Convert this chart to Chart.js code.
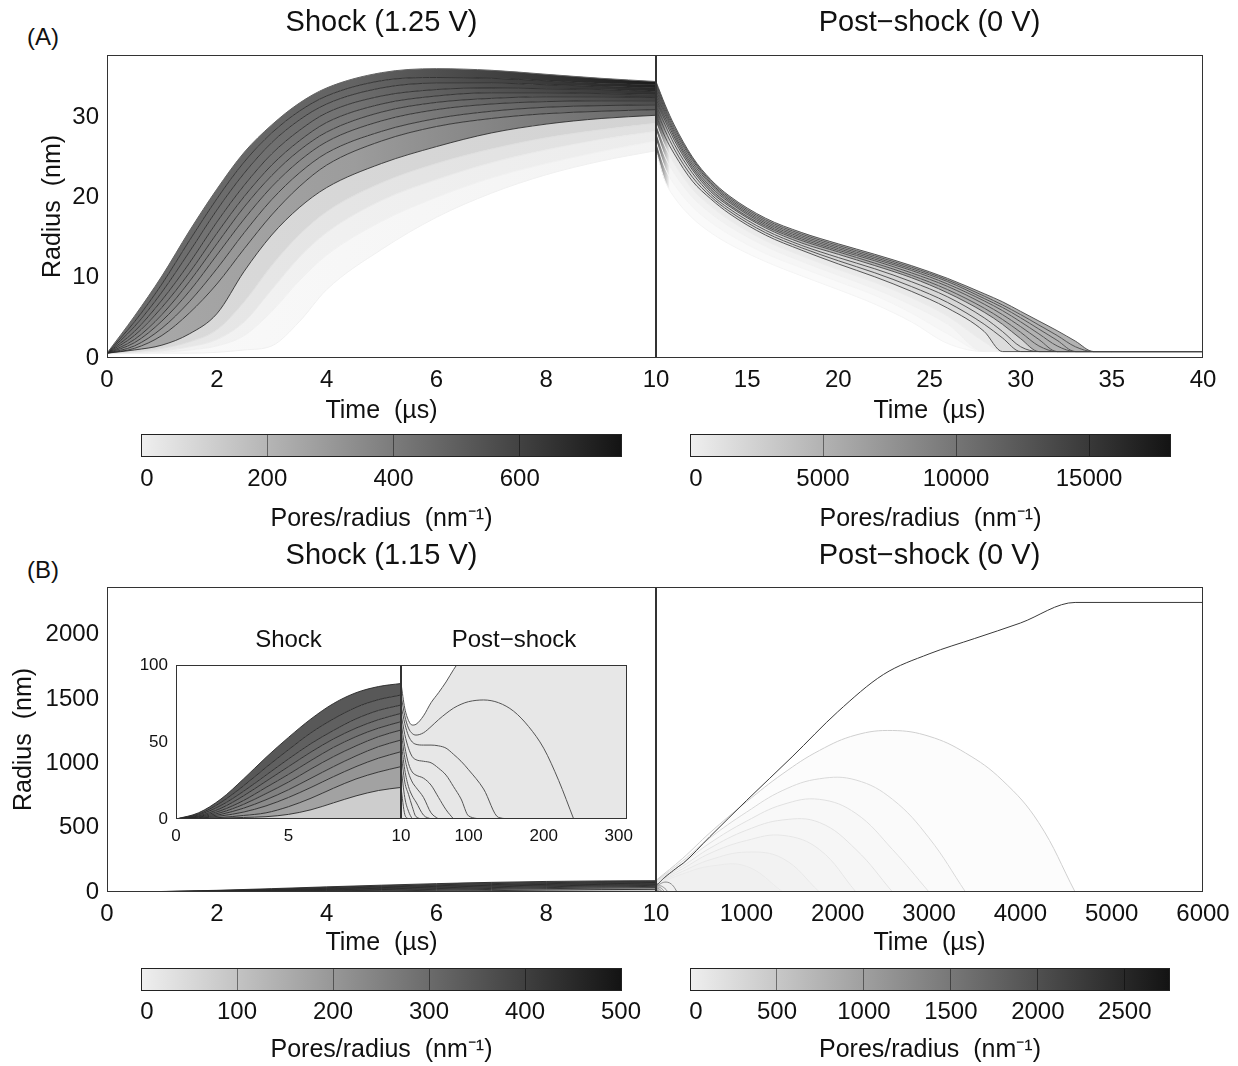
<!DOCTYPE html>
<html>
<head>
<meta charset="utf-8">
<script src="https://cdn.jsdelivr.net/npm/chart.js@4.4.0/dist/chart.umd.min.js"></script>
<style>
  body { margin: 0; background: #fff; width: 1238px; height: 1066px; position: relative; overflow: hidden;
         font-family: 'Liberation Sans', Arial, sans-serif; }
  .tag { position: absolute; font-size: 24px; line-height: 24px; color: #111; }
</style>
</head>
<body>
<div class="tag" style="left:27px;top:25px">(A)</div>
<div class="tag" style="left:27px;top:558px">(B)</div>
<script>
// ---------- panel A, shock at 1.25 V (time in us, radius in nm) ----------
const aShockTime = [0, 0.5, 1, 1.5, 2, 2.5, 3, 3.5, 4, 5, 6, 7, 8, 9, 10];
const aShockRadius = [
  [0.6, 5.2, 10.2, 15.8, 21.0, 25.6, 29.0, 31.7, 33.6, 35.5, 36.0, 35.8, 35.3, 34.8, 34.4],
  [0.6, 4.5, 9.2, 14.6, 19.8, 24.4, 28.0, 30.7, 32.6, 34.5, 34.9, 34.8, 34.5, 34.2, 34.0],
  [0.6, 3.9, 8.2, 13.2, 18.4, 23.0, 26.8, 29.6, 31.6, 33.6, 34.2, 34.2, 34.0, 33.8, 33.6],
  [0.6, 3.3, 7.2, 11.8, 16.9, 21.5, 25.4, 28.3, 30.5, 32.6, 33.4, 33.6, 33.5, 33.4, 33.2],
  [0.6, 2.8, 6.3, 10.6, 15.5, 20.1, 24.0, 27.0, 29.3, 31.6, 32.6, 33.0, 33.0, 32.9, 32.8],
  [0.6, 2.3, 5.4, 9.5, 14.2, 18.8, 22.7, 25.8, 28.1, 30.6, 31.8, 32.3, 32.5, 32.5, 32.4],
  [0.6, 1.9, 4.6, 8.3, 12.8, 17.3, 21.3, 24.5, 26.9, 29.5, 30.9, 31.6, 31.9, 32.0, 32.0],
  [0.6, 1.5, 3.7, 7.0, 11.1, 15.6, 19.7, 23.0, 25.5, 28.2, 29.8, 30.7, 31.2, 31.4, 31.5],
  [0.6, 1.2, 2.8, 5.6, 9.2, 13.6, 17.8, 21.3, 24.0, 27.0, 28.8, 29.8, 30.4, 30.7, 30.9],
  [0.6, 1.0, 1.6, 3.0, 5.5, 10.8, 15.3, 18.7, 21.2, 24.2, 26.3, 28.0, 29.1, 29.8, 30.2],
  [0.6, 0.8, 1.2, 2.0, 3.5, 7.0, 11.5, 15.3, 18.2, 21.8, 24.2, 26.0, 27.4, 28.4, 29.2],
  [0.6, 0.7, 0.9, 1.4, 2.3, 4.5, 8.5, 12.5, 15.6, 19.6, 22.2, 24.3, 25.9, 27.2, 28.2],
  [0.6, 0.6, 0.7, 1.0, 1.5, 2.8, 5.8, 9.6, 12.8, 17.0, 20.0, 22.4, 24.2, 25.7, 27.0],
  [0.6, 0.6, 0.6, 0.6, 0.7, 1.0, 1.5, 4.5, 8.5, 13.5, 17.5, 20.5, 22.8, 24.5, 25.8]
];

// ---------- panel A, post-shock ----------
const aPostTime = [10, 10.5, 11, 12, 13, 14, 16, 18, 20, 22, 24, 26, 28, 29, 30, 31, 32, 33, 34, 35, 40];
const aPostRadius = [
  [34.4, 31.5, 29.0, 25.0, 22.2, 20.2, 17.4, 15.6, 14.2, 12.9, 11.5, 9.9, 8.0, 7.0, 5.8, 4.6, 3.4, 2.1, 0.8, 0.8, 0.8],
  [34.0, 31.2, 28.7, 24.8, 22.0, 20.0, 17.2, 15.4, 14.0, 12.7, 11.3, 9.7, 7.7, 6.6, 5.4, 4.1, 2.8, 1.4, 0.8, 0.8, 0.8],
  [33.6, 30.9, 28.4, 24.6, 21.8, 19.8, 17.0, 15.2, 13.8, 12.5, 11.1, 9.5, 7.4, 6.3, 5.0, 3.6, 2.2, 0.8, 0.8, 0.8, 0.8],
  [33.2, 30.6, 28.1, 24.3, 21.6, 19.6, 16.8, 15.0, 13.6, 12.3, 10.9, 9.2, 7.1, 5.9, 4.5, 3.0, 1.5, 0.8, 0.8, 0.8, 0.8],
  [32.8, 30.3, 27.8, 24.0, 21.3, 19.4, 16.6, 14.8, 13.4, 12.1, 10.6, 8.9, 6.7, 5.4, 3.9, 2.3, 0.8, 0.8, 0.8, 0.8, 0.8],
  [32.4, 29.9, 27.5, 23.7, 21.0, 19.1, 16.4, 14.6, 13.2, 11.8, 10.3, 8.5, 6.2, 4.8, 3.2, 1.5, 0.8, 0.8, 0.8, 0.8, 0.8],
  [32.0, 29.5, 27.1, 23.4, 20.7, 18.9, 16.2, 14.3, 12.9, 11.5, 10.0, 8.1, 5.7, 4.2, 2.4, 0.8, 0.8, 0.8, 0.8, 0.8, 0.8],
  [31.5, 29.0, 26.6, 23.0, 20.4, 18.6, 15.9, 14.0, 12.5, 11.1, 9.5, 7.6, 5.0, 3.3, 1.4, 0.8, 0.8, 0.8, 0.8, 0.8, 0.8],
  [30.9, 28.3, 26.0, 22.5, 20.1, 18.3, 15.6, 13.7, 12.1, 10.6, 8.9, 6.9, 4.2, 2.5, 0.8, 0.8, 0.8, 0.8, 0.8, 0.8, 0.8],
  [30.2, 27.5, 25.4, 22.0, 19.8, 18.0, 15.3, 13.4, 11.7, 10.1, 8.3, 6.2, 3.3, 0.8, 0.8, 0.8, 0.8, 0.8, 0.8, 0.8, 0.8],
  [29.2, 26.3, 24.2, 21.0, 18.9, 17.2, 14.6, 12.7, 11.0, 9.4, 7.5, 5.2, 2.0, 0.8, 0.8, 0.8, 0.8, 0.8, 0.8, 0.8, 0.8],
  [28.2, 25.0, 23.0, 20.0, 18.0, 16.4, 13.9, 12.0, 10.3, 8.6, 6.6, 4.2, 0.8, 0.8, 0.8, 0.8, 0.8, 0.8, 0.8, 0.8, 0.8],
  [27.0, 23.6, 21.6, 18.8, 16.9, 15.4, 13.0, 11.2, 9.5, 7.8, 5.6, 3.0, 0.8, 0.8, 0.8, 0.8, 0.8, 0.8, 0.8, 0.8, 0.8],
  [25.8, 22.0, 20.0, 17.4, 15.6, 14.2, 12.0, 10.2, 8.5, 6.7, 4.5, 1.8, 0.8, 0.8, 0.8, 0.8, 0.8, 0.8, 0.8, 0.8, 0.8]
];

// ---------- panel B, shock at 1.15 V ----------
const bShockTime = [0, 1, 2, 3, 4, 5, 6, 7, 8, 9, 10];
const bShockRadius = [
  [0, 4, 13, 26, 40, 53, 65, 75, 82, 86, 88],
  [0, 3.2, 10.8, 21.5, 33.5, 45, 56, 65, 72.5, 77.5, 80.5],
  [0, 2.6, 8.8, 18, 28.5, 39, 49, 57.5, 65, 70.5, 74],
  [0, 2, 7, 15, 24.5, 34, 43.5, 52, 59, 64.5, 68.6],
  [0, 1.6, 5.5, 12, 20.5, 29, 38, 46.5, 53.5, 59, 63.2],
  [0, 1.2, 4.2, 9.5, 16.5, 24, 32.5, 40.5, 47.5, 53.5, 57.8],
  [0, 0.8, 3, 7, 12.5, 19, 26.5, 34, 41, 47, 51.3],
  [0, 0.5, 2, 4.5, 8.5, 14, 20.5, 27.5, 34, 39.5, 43.7],
  [0, 0.3, 1, 2.3, 4, 8, 13.5, 20, 26, 30.5, 34],
  [0, 0.1, 0.5, 1, 1.5, 3, 6, 10.5, 15, 18.5, 20.5]
];

// ---------- panel B, post-shock (curves stop once they reach zero) ----------
const bPostTime = [10, 15, 20, 25, 30, 40, 50, 60, 70, 80, 90, 100, 120, 140, 160, 180, 200, 220, 240, 260,
                   310, 600, 1000, 1500, 2000, 2500, 3000, 3500, 4000, 4600, 6000];
const bPostRadius = [
  [88, 72, 64, 61, 61.5, 67, 75.5, 82, 89, 97, 104, 110, 122, 134, 145, 156, 167, 178, 189, 200,
   225, 430, 710, 1050, 1400, 1690, 1850, 1970, 2090, 2250, 2250],
  [80.5, 67, 59, 55.5, 54.5, 56, 60, 64.5, 68.5, 72, 74.5, 76.2, 77.3, 75.5, 70, 60, 46, 25, 0],
  [74, 62, 54, 50, 48.5, 48, 48, 47.5, 46, 42, 37.5, 32, 19.5, 1, 0],
  [68.6, 55, 46, 40.5, 38.5, 37.5, 36.5, 33, 28.5, 21, 13, 2, 0],
  [63.2, 47, 36, 30.5, 28.5, 26.5, 22, 14, 6, 0],
  [57.8, 40, 30, 24, 20.5, 14, 4, 0],
  [51.3, 32, 21, 15, 11, 2.5, 0],
  [43.7, 24, 16, 8, 1.5, 0],
  [34, 14, 5, 0],
  [20.5, 3, 0]
];
// faint low-density curves in the post-shock panel
const bArcTime = [10, 300, 600, 1000, 1400, 1800, 2200, 2600, 3000, 3400, 3800, 4200, 4600];
const bArcRadius = [
  [90, 260, 460, 700, 920, 1100, 1220, 1255, 1210, 1080, 870, 540, 0],
  [85, 240, 420, 620, 790, 880, 870, 720, 420, 0],
  [80, 220, 380, 550, 680, 720, 610, 330, 0],
  [75, 200, 340, 480, 560, 540, 330, 0],
  [70, 180, 300, 400, 440, 330, 0],
  [65, 160, 250, 310, 260, 0],
  [60, 140, 200, 200, 0]
];

// ---------- tick labels ----------
const aShockTicks = [0, 2, 4, 6, 8, 10];
const aPostTicks = [15, 20, 25, 30, 35, 40];
const aRadiusTicks = [0, 10, 20, 30];
const bShockTicks = [0, 2, 4, 6, 8, 10];
const bPostTicks = [1000, 2000, 3000, 4000, 5000, 6000];
const bRadiusTicks = [0, 500, 1000, 1500, 2000];
const insetShockTicks = [0, 5, 10];
const insetPostTicks = [100, 200, 300];
const insetRadiusTicks = [0, 50, 100];
const cbTicksA1 = [0, 200, 400, 600];
const cbTicksA2 = [0, 5000, 10000, 15000];
const cbTicksB1 = [0, 100, 200, 300, 400, 500];
const cbTicksB2 = [0, 500, 1000, 1500, 2000, 2500];

// ---------- styles ----------
const FONT = "'Liberation Sans', Arial, sans-serif";
const INK = '#111';
const aShockBands = [108, 112, 118, 124, 131, 139, 148, 158, 170, 218, 232, 243, 250];
const aPostBands = [178, 178, 178, 178, 178, 178, 215, 215, 220, 234, 241, 246, 250];
const bShockBands = [88, 96, 104, 112, 120, 129, 138, 148, 162, 205];
const arcLines = ['#cfcfcf', '#d9d9d9', '#e0e0e0', '#e3e3e3', '#e6e6e6', '#e8e8e8', '#eaeaea'];

Chart.defaults.font.family = FONT;
Chart.defaults.color = INK;

const gray = g => { g = Math.round(g); return 'rgb(' + g + ',' + g + ',' + g + ')'; };

// gradient across the plot so bands darken toward one side
function bandFill(g, stops) {
  return function(ctx) {
    const chart = ctx.chart, a = chart.chartArea;
    if (!a) return gray(g);
    const grad = chart.ctx.createLinearGradient(a.left, 0, a.right, 0);
    stops.forEach(s => grad.addColorStop(s[0], gray(g * s[1])));
    return grad;
  };
}

function series(times, radius, styleAt) {
  return radius.map((vals, i) => Object.assign({
    data: vals.map((v, j) => ({ x: times[j], y: v })),
    pointRadius: 0,
    borderWidth: 1,
    cubicInterpolationMode: 'monotone',
    fill: false
  }, styleAt(i, radius.length)));
}

const framePlugin = {
  id: 'frame',
  afterDatasetsDraw(chart) {
    const a = chart.chartArea, c = chart.ctx;
    c.save();
    c.strokeStyle = '#333';
    c.lineWidth = 1;
    c.strokeRect(a.left + 0.5, a.top + 0.5, a.width - 1, a.height - 1);
    c.restore();
  }
};

const barPlugin = {
  id: 'bar',
  beforeDraw(chart) {
    const a = chart.chartArea, c = chart.ctx;
    const grad = c.createLinearGradient(a.left, 0, a.right, 0);
    grad.addColorStop(0, '#efefef');
    grad.addColorStop(1, '#131313');
    c.save();
    c.fillStyle = grad;
    c.fillRect(a.left, a.top, a.width, a.height);
    c.restore();
  },
  afterDraw(chart) {
    const a = chart.chartArea, c = chart.ctx;
    c.save();
    c.strokeStyle = '#222';
    c.lineWidth = 1;
    c.strokeRect(a.left + 0.5, a.top + 0.5, a.width - 1, a.height - 1);
    c.restore();
  }
};

function addCanvas(left, top, width, height) {
  const div = document.createElement('div');
  div.style.cssText = 'position:absolute;left:' + left + 'px;top:' + top + 'px;width:' + width + 'px;height:' + height + 'px';
  const cv = document.createElement('canvas');
  cv.width = width; cv.height = height;
  cv.style.width = width + 'px'; cv.style.height = height + 'px';
  div.appendChild(cv);
  document.body.appendChild(div);
  return cv;
}

function makePlot(o) {
  const [l, t, r, b] = o.area;
  const gap = t - o.top - o.titleSize * 1.2;
  const width = o.padL + (r - l) + o.padR;
  const height = (b - o.top) + o.padB;
  const cv = addCanvas(l - o.padL, o.top, width, height);
  return new Chart(cv, {
    type: 'line',
    data: { datasets: o.datasets },
    plugins: [framePlugin],
    options: {
      responsive: false,
      animation: false,
      events: [],
      layout: { padding: { left: 0, right: o.padR, top: 0, bottom: 0 } },
      plugins: {
        legend: { display: false },
        tooltip: { enabled: false },
        filler: { drawTime: 'beforeDatasetsDraw' },
        title: {
          display: true, text: o.title, fullSize: false, color: INK,
          font: { size: o.titleSize, weight: 'normal' },
          padding: { top: 0, bottom: gap }
        }
      },
      scales: {
        x: {
          type: 'linear', min: o.xMin, max: o.xMax,
          afterBuildTicks: s => { s.ticks = o.xTicks.map(v => ({ value: v })); },
          afterFit: s => { s.height = o.padB; },
          grid: { display: false, drawTicks: false },
          border: { display: false },
          ticks: { padding: o.xPad, font: { size: o.tickSize }, color: INK, maxRotation: 0, autoSkip: false,
                   callback: v => String(v) },
          title: { display: !!o.xTitle, text: o.xTitle, color: INK, font: { size: 25 }, padding: 0 }
        },
        y: {
          type: 'linear', display: true, min: o.yMin, max: o.yMax,
          afterBuildTicks: s => { s.ticks = (o.yTicks || []).map(v => ({ value: v })); },
          afterFit: s => { s.width = o.padL; },
          grid: { display: false, drawTicks: false },
          border: { display: false },
          ticks: { display: !!o.yTicks, padding: 8, font: { size: o.tickSize }, color: INK, autoSkip: false,
                   callback: v => String(v) },
          title: { display: !!o.yTitle, text: o.yTitle, color: INK, font: { size: 25 }, padding: 0 }
        }
      }
    }
  });
}

function makeColorbar(o) {
  const [l, t, r, b] = o.area;
  const cv = addCanvas(l - 30, t - 4, 30 + (r - l) + 40, 4 + (b - t) + o.padB);
  return new Chart(cv, {
    type: 'line',
    data: { datasets: [] },
    plugins: [barPlugin],
    options: {
      responsive: false, animation: false, events: [],
      layout: { padding: { left: 30, right: 40, top: 4, bottom: 0 } },
      plugins: { legend: { display: false }, tooltip: { enabled: false } },
      scales: {
        x: {
          type: 'linear', min: 0, max: o.max,
          afterBuildTicks: s => { s.ticks = o.ticks.map(v => ({ value: v })); },
          afterFit: s => { s.height = o.padB; },
          grid: { display: true, drawTicks: false, drawOnChartArea: true, color: 'rgba(0,0,0,0.45)' },
          border: { display: false },
          ticks: { padding: o.xPad, font: { size: 24 }, color: INK, maxRotation: 0, autoSkip: false,
                   callback: v => v === 0 ? '\u20020' : String(v) },
          title: { display: true, text: 'Pores/radius  (nm\u207B\u00B9)', color: INK, font: { size: 25 }, padding: 0 }
        },
        y: { display: false, min: 0, max: 1 }
      }
    }
  });
}

// ---------- panel A ----------
makePlot({
  area: [107, 55, 656, 358], top: 6, padL: 69, padR: 32, padB: 68,
  title: 'Shock (1.25 V)', titleSize: 29, tickSize: 24, xPad: 8,
  xMin: 0, xMax: 10, yMin: 0, yMax: 37.7, xTicks: aShockTicks, yTicks: aRadiusTicks,
  xTitle: 'Time  (\u00B5s)', yTitle: 'Radius  (nm)',
  datasets: series(aShockTime, aShockRadius, (i, n) => {
    const last = i === n - 1;
    const dark = i >= 1 && i <= 9;
    const g = aShockBands[Math.min(i, aShockBands.length - 1)];
    const k = 0.25 + 0.045 * i;
    return {
      borderColor: dark ? 'rgba(40,40,40,0.85)' : gray(g - 10),
      fill: last ? false : '+1',
      backgroundColor: i < 9 ? bandFill(g, [[0, 1], [0.45, 0.92], [1, k]]) : bandFill(g, [[0, 1], [1, 0.97]])
    };
  })
});

makePlot({
  area: [656, 55, 1203, 358], top: 6, padL: 20, padR: 30, padB: 68,
  title: 'Post\u2212shock (0 V)', titleSize: 29, tickSize: 24, xPad: 8,
  xMin: 10, xMax: 40, yMin: 0, yMax: 37.7, xTicks: aPostTicks, yTicks: null,
  xTitle: 'Time  (\u00B5s)',
  datasets: series(aPostTime, aPostRadius, (i, n) => {
    const last = i === n - 1;
    const g = aPostBands[Math.min(i, aPostBands.length - 1)];
    return {
      borderColor: i <= 9 ? 'rgba(70,70,70,0.9)' : gray(g - 6),
      fill: last ? false : '+1',
      backgroundColor: bandFill(g, [[0, 0.3], [0.025, 1], [1, 1]])
    };
  })
});

makeColorbar({ area: [141, 434, 622, 457], max: 762, ticks: cbTicksA1, padB: 77, xPad: 8 });
makeColorbar({ area: [690, 434, 1171, 457], max: 18080, ticks: cbTicksA2, padB: 77, xPad: 8 });

// ---------- panel B ----------
const bShockStyle = (i, n) => ({
  borderColor: 'rgba(40,40,40,0.9)',
  fill: i < n - 1 ? '+1' : 'origin',
  backgroundColor: gray(bShockBands[i])
});

makePlot({
  area: [107, 587, 656, 892], top: 539, padL: 98, padR: 32, padB: 66,
  title: 'Shock (1.15 V)', titleSize: 29, tickSize: 24, xPad: 8,
  xMin: 0, xMax: 10, yMin: 0, yMax: 2370, xTicks: bShockTicks, yTicks: bRadiusTicks,
  xTitle: 'Time  (\u00B5s)', yTitle: 'Radius  (nm)',
  datasets: series(bShockTime, bShockRadius, bShockStyle)
});

makePlot({
  area: [656, 587, 1203, 892], top: 539, padL: 20, padR: 45, padB: 66,
  title: 'Post\u2212shock (0 V)', titleSize: 29, tickSize: 24, xPad: 8,
  xMin: 10, xMax: 6000, yMin: 0, yMax: 2370, xTicks: bPostTicks, yTicks: null,
  xTitle: 'Time  (\u00B5s)',
  datasets: series(bPostTime, bPostRadius, i => ({ borderColor: i === 0 ? '#3a3a3a' : '#8a8a8a' }))
    .concat(series(bArcTime, bArcRadius, i => ({
      borderColor: arcLines[i], fill: 'origin', backgroundColor: 'rgba(0,0,0,0.011)',
      cubicInterpolationMode: 'default', tension: 0.4
    })))
});

// inset: same panel-B data on a zoomed scale
makePlot({
  area: [176, 665, 401, 819], top: 626, padL: 40, padR: 26, padB: 30,
  title: 'Shock', titleSize: 24, tickSize: 17, xPad: 7,
  xMin: 0, xMax: 10, yMin: 0, yMax: 100, xTicks: insetShockTicks, yTicks: insetRadiusTicks,
  datasets: series(bShockTime, bShockRadius, bShockStyle)
});

makePlot({
  area: [401, 665, 627, 819], top: 626, padL: 12, padR: 28, padB: 30,
  title: 'Post\u2212shock', titleSize: 24, tickSize: 17, xPad: 7,
  xMin: 10, xMax: 311, yMin: 0, yMax: 100, xTicks: insetPostTicks, yTicks: null,
  datasets: series(bPostTime, bPostRadius, i => i === 0
    ? { borderColor: '#555', fill: 'origin', backgroundColor: '#e7e7e7' }
    : { borderColor: '#555' })
});

makeColorbar({ area: [141, 968, 622, 991], max: 501, ticks: cbTicksB1, padB: 74, xPad: 7 });
makeColorbar({ area: [690, 968, 1170, 991], max: 2760, ticks: cbTicksB2, padB: 74, xPad: 7 });
</script>
</body>
</html>
